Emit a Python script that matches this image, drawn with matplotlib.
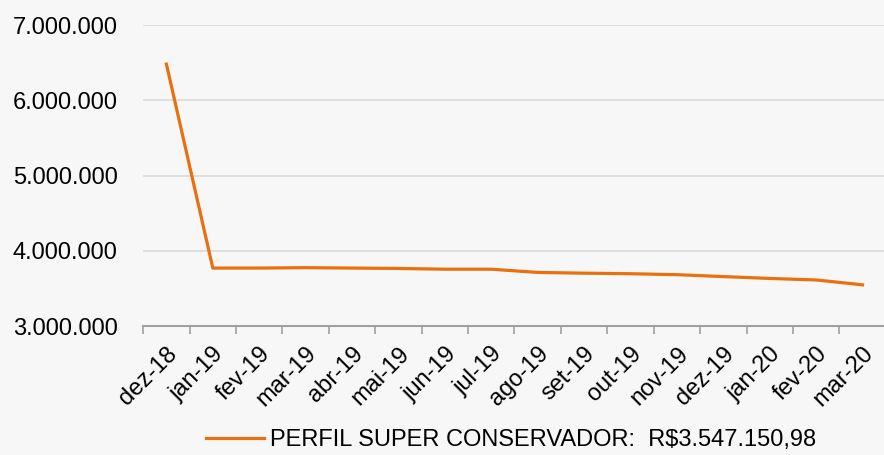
import matplotlib
matplotlib.use("Agg")
import matplotlib.pyplot as plt
from matplotlib.ticker import FuncFormatter

months = ["dez-18", "jan-19", "fev-19", "mar-19", "abr-19", "mai-19", "jun-19", "jul-19",
          "ago-19", "set-19", "out-19", "nov-19", "dez-19", "jan-20", "fev-20", "mar-20"]
values = [6480000, 3770000, 3770000, 3775000, 3770000, 3765000, 3755000, 3755000,
          3712000, 3702000, 3695000, 3682000, 3657000, 3632000, 3612000, 3547151]
series_label = "PERFIL SUPER CONSERVADOR:  R$3.547.150,98"
yticks = [3000000, 4000000, 5000000, 6000000, 7000000]

plt.rcParams['font.family'] = ['Liberation Sans', 'DejaVu Sans']

bg = '#f7f7f7'
fs = 17
fig = plt.figure(figsize=(8.84, 4.55), dpi=100, facecolor=bg)
ax = fig.add_axes([0.162, 0.2835, 0.840, 0.6615], facecolor=bg)

x = list(range(len(months)))
ax.plot(x, values, color='#E8700E', lw=2.3, label=series_label, solid_joinstyle='round')

ax.set_xlim(-0.5, len(months) - 0.5)
ax.set_ylim(3000000, 7000000)
ax.set_yticks(yticks)
ax.yaxis.set_major_formatter(FuncFormatter(lambda v, p: f"{int(v):,}".replace(",", ".")))
ax.yaxis.grid(True, color='#d9d9d9', lw=1.2)
ax.set_axisbelow(True)
ax.tick_params(axis='y', length=0, labelsize=fs, pad=18.5)

ax.set_xticks([i - 0.5 for i in range(len(months) + 1)], minor=False)
ax.set_xticklabels([""] * (len(months) + 1))
ax.set_xticks(x, minor=True)
ax.set_xticklabels(months, minor=True, rotation=45, ha='right', rotation_mode='anchor', fontsize=fs)
ax.tick_params(axis='x', which='major', length=6, width=1.2, color='#a0a0a0', direction='out')
ax.tick_params(axis='x', which='minor', length=0, pad=12)

for s in ['left', 'right', 'top']:
    ax.spines[s].set_visible(False)
ax.spines['bottom'].set_color('#a0a0a0')
ax.spines['bottom'].set_linewidth(1.5)

leg = fig.legend(loc='center', bbox_to_anchor=(0.578, 0.033), frameon=False, fontsize=fs,
                 handlelength=2.45, handletextpad=0.25)

fig.savefig("out.png", dpi=100, facecolor=bg)
